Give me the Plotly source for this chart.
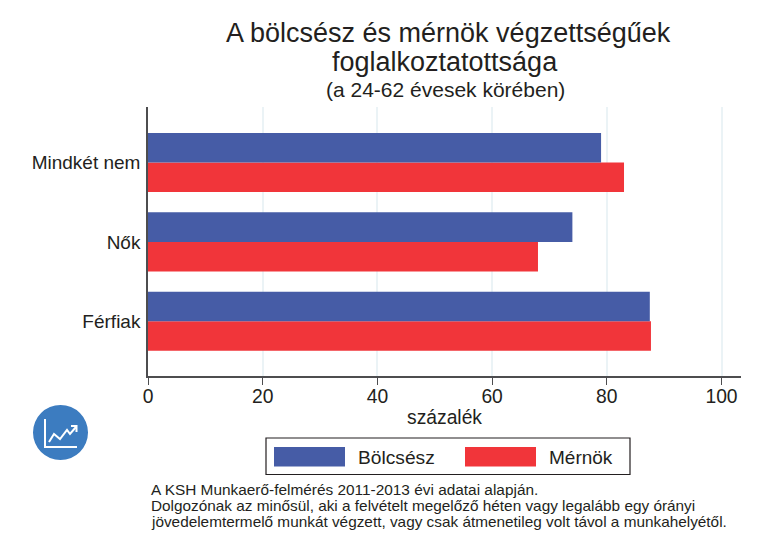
import plotly.graph_objects as go

categories = ["Férfiak", "Nők", "Mindkét nem"]
bolcsesz = [87.5, 74.0, 79.0]
mernok = [87.7, 68.0, 83.0]
series_names = ["Bölcsész", "Mérnök"]
x_ticks = [0, 20, 40, 60, 80, 100]
title_lines = ["A bölcsész és mérnök végzettségűek", "foglalkoztatottsága"]
subtitle = "(a 24-62 évesek körében)"
x_title = "százalék"
notes = [
    "A KSH Munkaerő-felmérés 2011-2013 évi adatai alapján.",
    "Dolgozónak az minősül, aki a felvételt megelőző héten vagy legalább egy órányi",
    "jövedelemtermelő munkát végzett, vagy csak átmenetileg volt távol a munkahelyétől.",
]

W, H = 760, 553
L, R, T, B = 148, 741, 107, 376
BLUE, RED = "#465ca6", "#f1353a"
FONT = "Liberation Sans"
INK = "#231f20"

def px(x):
    return (x - L) / (R - L)

def py(y):
    return (B - y) / (B - T)

def ptxt(x, y, text, size, anchor="left"):
    return dict(xref="paper", yref="paper", x=px(x), y=py(y), text=text, showarrow=False,
                xanchor=anchor, yanchor="middle", align=anchor,
                font=dict(family=FONT, size=size, color=INK))

def rect(x0, y0, x1, y1, fill, line=None, width=0):
    return dict(type="rect", xref="paper", yref="paper", x0=px(x0), x1=px(x1), y0=py(y1), y1=py(y0),
                fillcolor=fill, line=dict(color=line or fill, width=width), layer="above")

def path(pts, color, width):
    d = "M " + " L ".join(f"{px(a):.5f},{py(b):.5f}" for a, b in pts)
    return dict(type="path", xref="paper", yref="paper", path=d,
                line=dict(color=color, width=width), layer="above")

fig = go.Figure()
fig.add_bar(y=categories, x=mernok, name=series_names[1], orientation="h",
            marker=dict(color=RED, line=dict(width=0)), offsetgroup="m")
fig.add_bar(y=categories, x=bolcsesz, name=series_names[0], orientation="h",
            marker=dict(color=BLUE, line=dict(width=0)), offsetgroup="b")

annotations = [
    ptxt(448, 33, title_lines[0], 27, "center"),
    ptxt(445, 62, title_lines[1], 27, "center"),
    ptxt(445, 90, subtitle, 21, "center"),
    ptxt(356, 457, series_names[0], 19.2),
    ptxt(547, 457, series_names[1], 19),
    ptxt(149, 489, notes[0], 15.4),
    ptxt(149, 505, notes[1], 15.35),
    ptxt(149, 521, notes[2], 15.35),
]

shapes = [
    rect(266, 438, 630, 474.5, "white", "#231f20", 1.2),
    rect(274, 447, 345, 466.5, BLUE),
    rect(465, 447, 536, 466.5, RED),
    dict(type="circle", xref="paper", yref="paper", x0=px(33), x1=px(88), y0=py(460), y1=py(405),
         fillcolor="#3c7cc0", line=dict(width=0), layer="above"),
    path([(45, 419), (45, 447), (77, 447)], "white", 2),
    path([(49, 442), (54, 434), (60, 439), (67, 430), (70, 434), (76, 427)], "white", 2),
    path([(71, 426), (76.5, 426), (76.5, 432)], "white", 2),
]

fig.update_layout(
    width=W, height=H, autosize=False,
    margin=dict(l=L, r=W - R, t=T, b=H - B, pad=0),
    paper_bgcolor="white", plot_bgcolor="white",
    barmode="group", bargap=0.255, bargroupgap=0,
    showlegend=False,
    font=dict(family=FONT, color=INK),
    annotations=annotations, shapes=shapes,
    xaxis=dict(range=[0, 103.4], tickvals=x_ticks, ticks="outside", ticklen=7, tickwidth=1.2,
               tickcolor="#4d4d4f", showgrid=True, gridcolor="#ebf3f6", gridwidth=1.5,
               showline=True, linecolor="#4d4d4f", linewidth=1.5, zeroline=False,
               ticklabelstandoff=-5,
               tickfont=dict(size=19.3, family=FONT, color=INK),
               title=dict(text=x_title, font=dict(size=19.3, family=FONT, color=INK), standoff=0)),
    yaxis=dict(range=[-0.69, 2.70], ticks="", showgrid=False, showline=True,
               linecolor="#4d4d4f", linewidth=1.5, zeroline=False, ticklabelstandoff=2,
               tickfont=dict(size=19, family=FONT, color=INK)),
)

fig.write_html("out.html", post_script="document.body.style.margin='0';",
               config={"displayModeBar": False})
